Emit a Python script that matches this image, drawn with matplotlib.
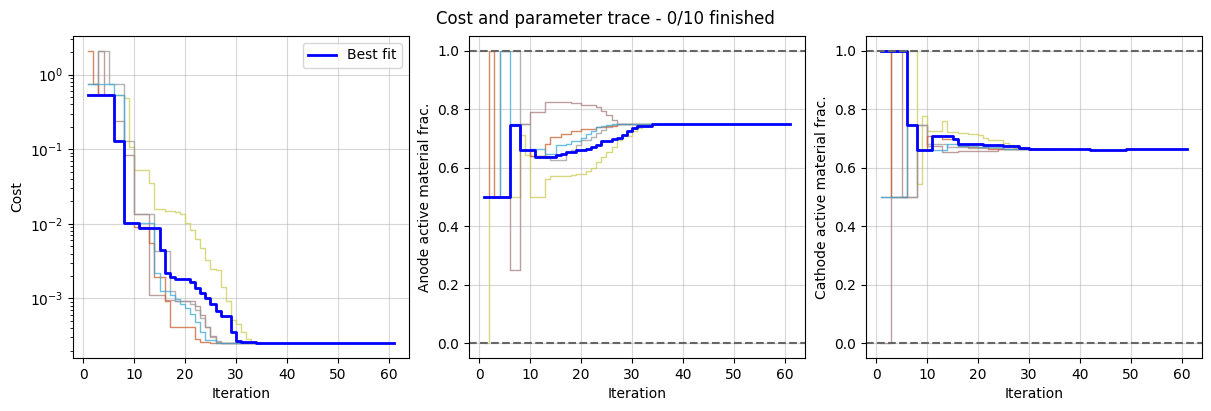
import numpy as np
import matplotlib.pyplot as plt

# iterations of the best fit and of the individual runs
iterations = np.arange(1, 62)
run_iterations = np.arange(1, 36)

best_cost = [0.54, 0.54, 0.54, 0.54, 0.54, 0.13, 0.13, 0.0104, 0.0104, 0.0104,
             0.0089, 0.0089, 0.0089, 0.0089, 0.0045, 0.0022, 0.00195, 0.00185, 0.00185, 0.00185,
             0.00167, 0.00138, 0.00117, 0.00102, 0.00084, 0.00068, 0.00058, 0.00058, 0.00036, 0.00027,
             0.00026, 0.00026, 0.00026, 0.00025, 0.00025, 0.00025, 0.00025, 0.00025, 0.00025, 0.00025,
             0.00025, 0.00025, 0.00025, 0.00025, 0.00025, 0.00025, 0.00025, 0.00025, 0.00025, 0.00025,
             0.00025, 0.00025, 0.00025, 0.00025, 0.00025, 0.00025, 0.00025, 0.00025, 0.00025, 0.00025,
             0.00025]
best_anode = [0.5, 0.5, 0.5, 0.5, 0.5, 0.747, 0.747, 0.661, 0.661, 0.661,
              0.636, 0.636, 0.636, 0.636, 0.642, 0.648, 0.652, 0.652, 0.659, 0.659,
              0.665, 0.670, 0.678, 0.691, 0.691, 0.697, 0.702, 0.712, 0.724, 0.736,
              0.742, 0.742, 0.742, 0.75, 0.75, 0.75, 0.75, 0.75, 0.75, 0.75,
              0.75, 0.75, 0.75, 0.75, 0.75, 0.75, 0.75, 0.75, 0.75, 0.75,
              0.75, 0.75, 0.75, 0.75, 0.75, 0.75, 0.75, 0.75, 0.75, 0.75,
              0.75]
best_cathode = [1.0, 1.0, 1.0, 1.0, 1.0, 0.747, 0.747, 0.661, 0.661, 0.661,
                0.707, 0.707, 0.707, 0.707, 0.698, 0.682, 0.682, 0.682, 0.682, 0.682,
                0.678, 0.678, 0.678, 0.678, 0.673, 0.673, 0.673, 0.668, 0.668, 0.665,
                0.665, 0.665, 0.665, 0.665, 0.665, 0.665, 0.665, 0.665, 0.665, 0.665,
                0.665, 0.661, 0.661, 0.661, 0.661, 0.661, 0.661, 0.661, 0.665, 0.665,
                0.665, 0.665, 0.665, 0.665, 0.665, 0.665, 0.665, 0.665, 0.665, 0.665,
                0.665]

# individual runs (35 iterations each)
olive_cost = [0.54, 0.54, 0.54, 0.54, 0.54, 0.54, 0.54, 0.48, 0.107, 0.053,
              0.053, 0.053, 0.035, 0.016, 0.016, 0.0148, 0.0148, 0.0142, 0.0135, 0.0104,
              0.0083, 0.0063, 0.0048, 0.0033, 0.0025, 0.0024, 0.00144, 0.00091, 0.00051, 0.00046,
              0.00036, 0.00029, 0.00026, 0.00025, 0.00025]
olive_anode = [0.0, 0.5, 0.5, 0.5, 0.5, 0.5, 0.5, 0.713, 0.642, 0.5,
               0.5, 0.5, 0.56, 0.572, 0.572, 0.572, 0.572, 0.576, 0.58, 0.58,
               0.59, 0.6, 0.62, 0.636, 0.653, 0.67, 0.693, 0.707, 0.707, 0.727,
               0.736, 0.742, 0.747, 0.75, 0.75]
olive_cathode = [1.0, 1.0, 1.0, 1.0, 1.0, 1.0, 1.0, 0.545, 0.775, 0.725,
                 0.725, 0.725, 0.758, 0.722, 0.722, 0.72, 0.72, 0.716, 0.716, 0.71,
                 0.702, 0.693, 0.693, 0.693, 0.684, 0.676, 0.668, 0.668, 0.665, 0.665,
                 0.665, 0.665, 0.665, 0.665, 0.665]

brown_cost = [0.54, 0.54, 2.1, 0.54, 0.54, 0.237, 0.237, 0.085, 0.085, 0.0134,
              0.0134, 0.0134, 0.0011, 0.0011, 0.0011, 0.00095, 0.00095, 0.00092, 0.00092, 0.00092,
              0.00092, 0.0008, 0.0006, 0.00042, 0.00031, 0.00026, 0.00025, 0.00025, 0.00025, 0.00025,
              0.00025, 0.00025, 0.00025, 0.00025, 0.00025]
brown_anode = [0.5, 0.5, 0.5, 0.5, 0.5, 0.25, 0.25, 0.75, 0.75, 0.79,
               0.79, 0.79, 0.826, 0.826, 0.826, 0.826, 0.826, 0.82, 0.82, 0.815,
               0.815, 0.815, 0.807, 0.795, 0.78, 0.762, 0.75, 0.75, 0.75, 0.75,
               0.75, 0.75, 0.75, 0.75, 0.75]
brown_cathode = [0.0, 0.0, 1.0, 1.0, 0.5, 0.5, 0.5, 0.745, 0.745, 0.675,
                 0.675, 0.675, 0.655, 0.655, 0.655, 0.657, 0.657, 0.657, 0.657, 0.657,
                 0.657, 0.657, 0.657, 0.665, 0.665, 0.665, 0.665, 0.665, 0.665, 0.665,
                 0.665, 0.665, 0.665, 0.665, 0.665]

gray_cost = [0.76, 0.76, 2.1, 2.1, 0.76, 0.76, 0.76, 0.13, 0.13, 0.0134,
             0.0134, 0.0134, 0.0134, 0.0043, 0.0043, 0.0043, 0.00127, 0.00093, 0.00093, 0.00093,
             0.00085, 0.0007, 0.00055, 0.00042, 0.0003, 0.00027, 0.00025, 0.00025, 0.00025, 0.00025,
             0.00025, 0.00025, 0.00025, 0.00025, 0.00025]
gray_anode = [0.5, 0.5, 0.5, 1.0, 1.0, 1.0, 1.0, 0.75, 0.75, 0.64,
              0.64, 0.64, 0.64, 0.625, 0.625, 0.625, 0.653, 0.66, 0.677, 0.693,
              0.693, 0.705, 0.72, 0.73, 0.74, 0.745, 0.75, 0.75, 0.75, 0.75,
              0.75, 0.75, 0.75, 0.75, 0.75]
gray_cathode = [0.5, 0.5, 0.5, 0.5, 0.5, 0.5, 0.5, 0.745, 0.745, 0.682,
                0.682, 0.682, 0.682, 0.672, 0.672, 0.672, 0.672, 0.668, 0.668, 0.668,
                0.668, 0.668, 0.668, 0.668, 0.665, 0.665, 0.665, 0.665, 0.665, 0.665,
                0.665, 0.665, 0.665, 0.665, 0.665]

orange_cost = [2.1, 0.76, 0.54, 0.54, 0.54, 0.13, 0.13, 0.0104, 0.0104, 0.0092,
               0.0092, 0.0092, 0.0055, 0.00195, 0.00195, 0.00092, 0.00041, 0.00041, 0.00041, 0.00041,
               0.00041, 0.000285, 0.00026, 0.00026, 0.00025, 0.00025, 0.00025, 0.00025, 0.00025, 0.00025,
               0.00025, 0.00025, 0.00025, 0.00025, 0.00025]
orange_anode = [0.5, 1.0, 0.5, 0.5, 0.5, 0.747, 0.747, 0.661, 0.661, 0.64,
                0.64, 0.64, 0.682, 0.704, 0.704, 0.715, 0.715, 0.727, 0.727, 0.732,
                0.732, 0.732, 0.738, 0.738, 0.744, 0.744, 0.75, 0.75, 0.75, 0.75,
                0.75, 0.75, 0.75, 0.75, 0.75]
orange_cathode = [1.0, 1.0, 0.5, 0.5, 0.5, 0.747, 0.747, 0.661, 0.661, 0.707,
                  0.707, 0.707, 0.699, 0.699, 0.699, 0.675, 0.675, 0.672, 0.672, 0.672,
                  0.672, 0.665, 0.665, 0.665, 0.665, 0.665, 0.665, 0.665, 0.665, 0.665,
                  0.665, 0.665, 0.665, 0.665, 0.665]

cyan_cost = [0.76, 0.76, 0.76, 0.76, 0.76, 0.54, 0.54, 0.0104, 0.0104, 0.0104,
             0.0104, 0.0104, 0.0104, 0.0022, 0.00125, 0.00125, 0.0011, 0.00098, 0.00085, 0.00075,
             0.00062, 0.00048, 0.00036, 0.00028, 0.00028, 0.00025, 0.00025, 0.00025, 0.00025, 0.00025,
             0.00025, 0.00025, 0.00025, 0.00025, 0.00025]
cyan_anode = [0.5, 0.5, 0.5, 1.0, 1.0, 0.75, 0.75, 0.661, 0.661, 0.665,
              0.665, 0.665, 0.648, 0.648, 0.676, 0.676, 0.68, 0.69, 0.69, 0.70,
              0.716, 0.727, 0.738, 0.742, 0.745, 0.748, 0.75, 0.75, 0.75, 0.75,
              0.75, 0.75, 0.75, 0.75, 0.75]
cyan_cathode = [0.5, 0.5, 0.5, 0.5, 0.5, 0.745, 0.745, 0.661, 0.661, 0.661,
                0.661, 0.661, 0.661, 0.682, 0.682, 0.675, 0.675, 0.675, 0.675, 0.672,
                0.672, 0.672, 0.672, 0.672, 0.665, 0.665, 0.665, 0.665, 0.665, 0.665,
                0.665, 0.665, 0.665, 0.665, 0.665]

run_colors = ['#cccc55', '#a87d7d', '#9a9a9a', '#c9602e', '#3aa8d8']
cost_runs = [olive_cost, brown_cost, gray_cost, orange_cost, cyan_cost]
anode_runs = [olive_anode, brown_anode, gray_anode, orange_anode, cyan_anode]
cathode_runs = [olive_cathode, brown_cathode, gray_cathode, orange_cathode, cyan_cathode]

ylabels = ['Cost', 'Anode active material frac.', 'Cathode active material frac.']

fig = plt.figure(figsize=(12.11, 4.11), dpi=100)
lefts = [0.0603, 0.3873, 0.7151]
axes = [fig.add_axes([l, 0.129, 0.2775, 0.7835]) for l in lefts]

for ax, runs, best, ylab in zip(axes, [cost_runs, anode_runs, cathode_runs],
                                [best_cost, best_anode, best_cathode], ylabels):
    for vals, col in zip(runs, run_colors):
        ax.step(run_iterations, vals, where='post', color=col, lw=1, alpha=0.75)
    ax.step(iterations, best, where='post', color='b', lw=2, label='Best fit')
    ax.set_xlabel('Iteration')
    ax.set_ylabel(ylab)
    ax.grid(True, alpha=0.5)

axes[0].set_yscale('log')
axes[0].legend(loc='upper right')
for ax in axes[1:]:
    ax.axhline(0, color='0.4', ls='--', lw=1.5)
    ax.axhline(1, color='0.4', ls='--', lw=1.5)

fig.suptitle('Cost and parameter trace - 0/10 finished', y=0.975, fontsize=12)
fig.savefig('out.png', dpi=100)
